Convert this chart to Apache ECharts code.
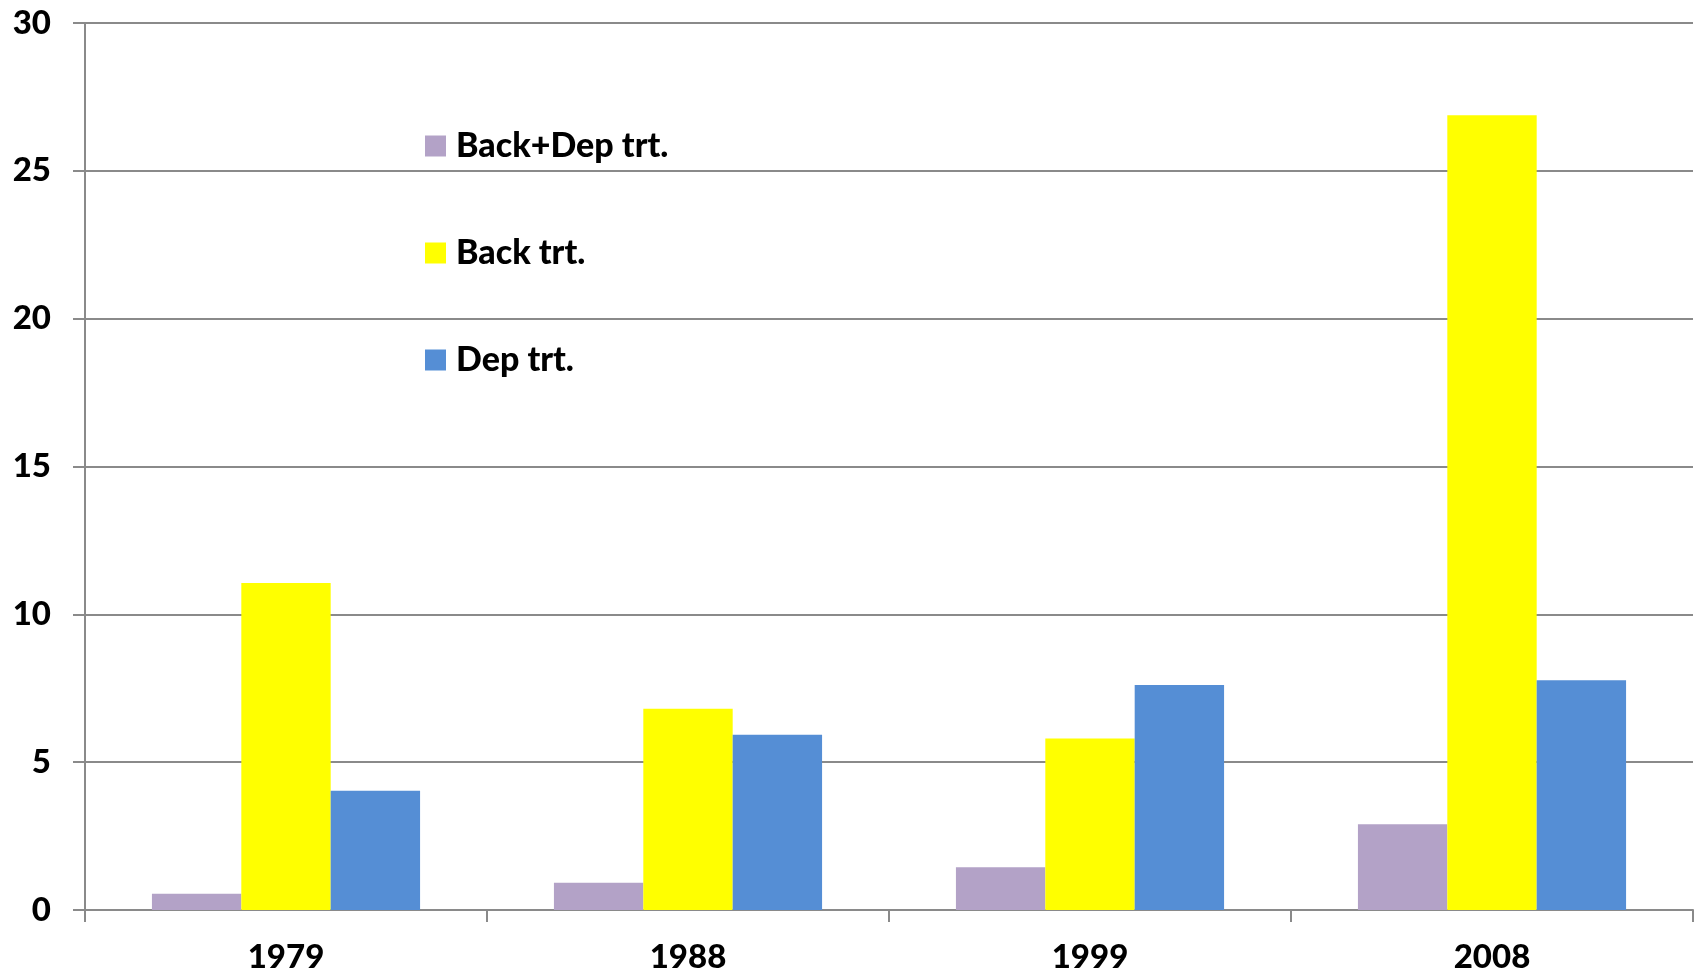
<!DOCTYPE html>
<html>
<head>
<meta charset="utf-8">
<script src="https://cdn.jsdelivr.net/npm/echarts@6/dist/echarts.min.js"></script>
<style>
  html, body { margin: 0; padding: 0; background: #fff; }
  #chart { width: 1700px; height: 974px; }
</style>
</head>
<body>
<div id="chart"></div>
<script>
const years = ['1979', '1988', '1999', '2008']
const seriesNames = ['Back+Dep trt.', 'Back trt.', 'Dep trt.']
const backDep = [0.55, 0.92, 1.45, 2.9]
const back = [11.06, 6.81, 5.8, 26.88]
const dep = [4.03, 5.93, 7.61, 7.77]
const yTicks = [0, 5, 10, 15, 20, 25, 30]

const colors = ['#B3A2C7', '#FFFF00', '#558ED5']
const font = 'Lato, Calibri, "Open Sans", sans-serif'
const gridGray = '#8a8a8a'

const chart = echarts.init(document.getElementById('chart'))

const makeBar = (name, data, i) => ({
  name,
  type: 'bar',
  data,
  barGap: '0%',
  barCategoryGap: '33.3%',
  itemStyle: { color: colors[i] },
})

chart.setOption({
  animation: false,
  backgroundColor: '#fff',
  grid: { left: 85, right: 7, top: 23, bottom: 63 },
  legend: {
    orient: 'vertical',
    left: 425,
    top: 129,
    padding: 0,
    itemWidth: 21,
    itemHeight: 21,
    itemGap: 73,
    icon: 'rect',
    data: seriesNames,
    textStyle: {
      fontFamily: font,
      fontWeight: 900,
      fontSize: 34,
      lineHeight: 34,
      color: '#000',
      padding: [0, 0, 0, 5],
    },
  },
  xAxis: {
    type: 'category',
    data: years,
    axisLine: { lineStyle: { color: gridGray, width: 2 } },
    axisTick: { show: true, length: 12, lineStyle: { color: gridGray, width: 2 } },
    axisLabel: {
      margin: 31,
      color: '#000',
      fontFamily: font,
      fontWeight: 900,
      fontSize: 33,
    },
  },
  yAxis: {
    type: 'value',
    min: yTicks[0],
    max: yTicks[yTicks.length - 1],
    interval: yTicks[1] - yTicks[0],
    axisLine: { show: true, lineStyle: { color: gridGray, width: 2 } },
    axisTick: { show: true, length: 12, lineStyle: { color: gridGray, width: 2 } },
    splitLine: { lineStyle: { color: gridGray, width: 2 } },
    axisLabel: {
      margin: 34,
      color: '#000',
      fontFamily: font,
      fontWeight: 900,
      fontSize: 33,
    },
  },
  series: [
    makeBar(seriesNames[0], backDep, 0),
    makeBar(seriesNames[1], back, 1),
    makeBar(seriesNames[2], dep, 2),
  ],
})
</script>
</body>
</html>
